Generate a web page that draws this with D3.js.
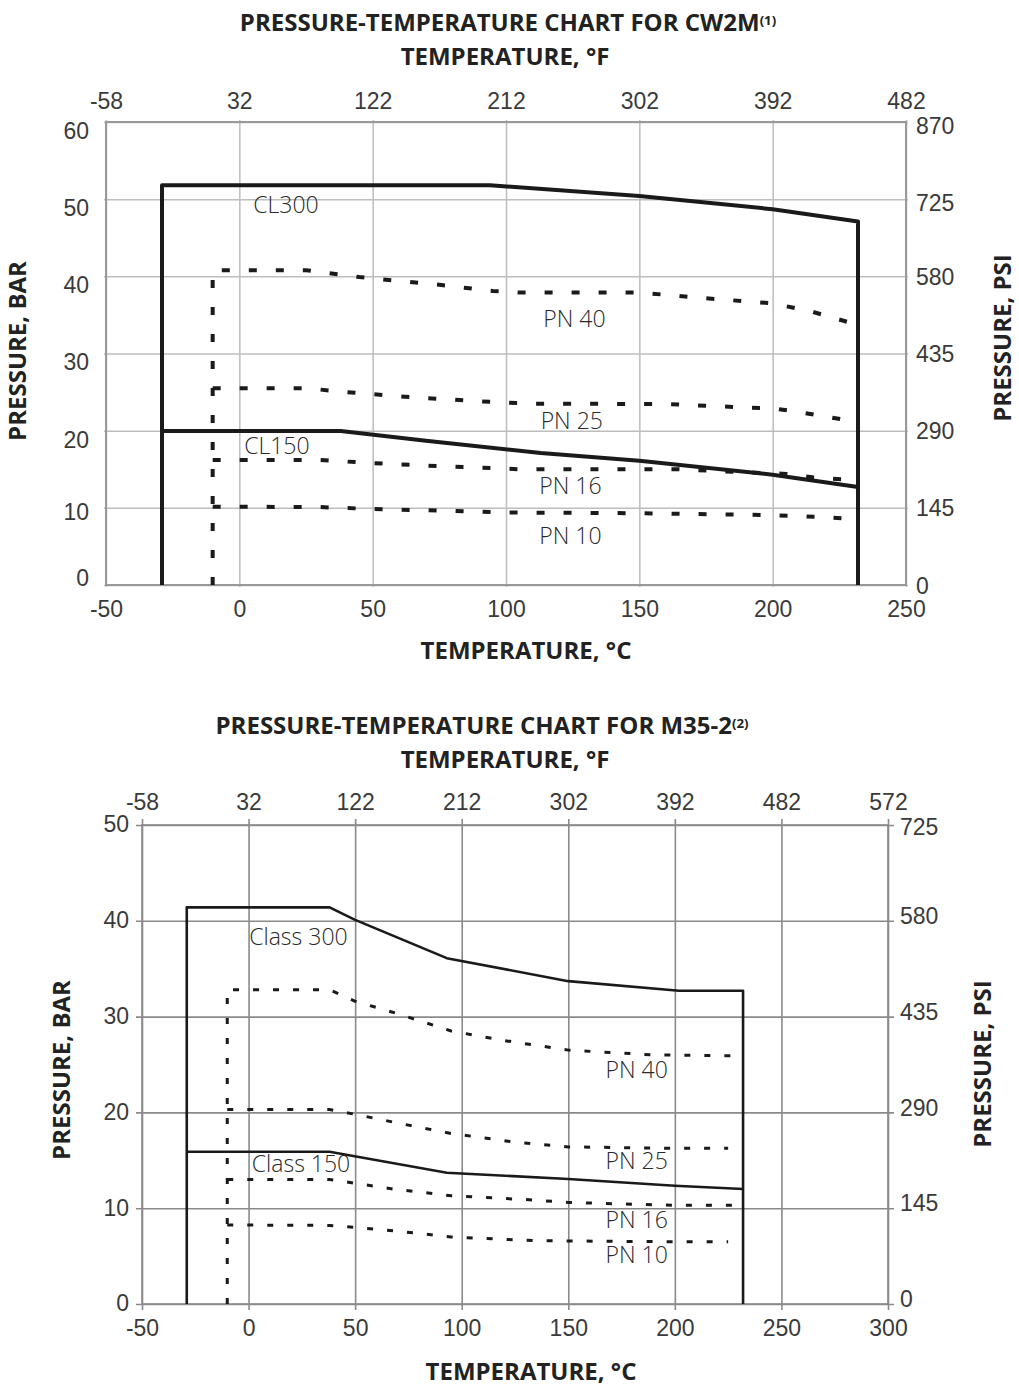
<!DOCTYPE html>
<html>
<head>
<meta charset="utf-8">
<script src="https://cdn.jsdelivr.net/npm/d3@7"></script>
<style>
  body { margin: 0; background: #fff; }
  svg { display: block; font-family: "Open Sans", sans-serif; }
  .tick text { fill: #3a3a3a; font-weight: 300; }
  .ttl { font-weight: 700; fill: #222; }
  .lbl { font-weight: 300; fill: #2a2a2a; }
</style>
</head>
<body>
<script>
// ---- CW2M chart (top) ----
const cTicks1 = [-50, 0, 50, 100, 150, 200, 250];
const fTicks1 = [-58, 32, 122, 212, 302, 392, 482];
const barTicks1 = [0, 10, 20, 30, 40, 50, 60];
const psiTicks1 = [0, 145, 290, 435, 580, 725, 870];

const cw2mCL300 = [[-29, 0], [-29, 51.8], [94, 51.8], [150, 50.4], [200, 48.7], [232, 47.1], [232, 0]];
const cw2mCL150 = [[-29, 19.95], [38, 19.95], [70, 18.7], [113, 17.1], [150, 16.1], [200, 14.3], [232, 12.7]];
const cw2mPN40 = [[-10, 0], [-10, 40.8], [25, 40.8], [45, 39.9], [75, 38.9], [95, 38.1], [105, 37.9], [150, 37.9], [175, 37.15], [200, 36.5], [215, 35.4], [228, 34.1]];
const cw2mPN25 = [[-10, 25.5], [25, 25.5], [40, 25.0], [60, 24.45], [90, 23.8], [110, 23.5], [160, 23.45], [190, 23.0], [200, 22.9], [210, 22.4], [229, 21.3]];
const cw2mPN16 = [[-10, 16.2], [30, 16.2], [50, 15.8], [75, 15.4], [95, 15.15], [105, 15.0], [165, 15.0], [190, 14.6], [205, 14.4], [215, 13.95], [226, 13.7]];
const cw2mPN10 = [[-10, 10.15], [30, 10.1], [50, 9.85], [80, 9.6], [100, 9.4], [150, 9.3], [180, 9.15], [200, 9.05], [220, 8.8], [231, 8.5]];

// ---- M35-2 chart (bottom) ----
const cTicks2 = [-50, 0, 50, 100, 150, 200, 250, 300];
const fTicks2 = [-58, 32, 122, 212, 302, 392, 482, 572];
const barTicks2 = [0, 10, 20, 30, 40, 50];
const psiTicks2 = [0, 145, 290, 435, 580, 725];

const m35Class300 = [[-29, 0], [-29, 41.4], [38, 41.4], [50, 40.1], [93, 36.1], [150, 33.7], [202, 32.7], [232, 32.7], [232, 0]];
const m35Class150 = [[-29, 15.9], [38, 15.9], [93, 13.7], [150, 13.05], [200, 12.35], [232, 12.0]];
const m35PN40 = [[-10, 0], [-10, 32.8], [38, 32.8], [50, 31.6], [70, 30.3], [95, 28.5], [120, 27.5], [150, 26.5], [190, 26.0], [232, 25.9]];
const m35PN25 = [[-10, 20.3], [38, 20.3], [50, 19.8], [72, 18.8], [95, 17.8], [125, 16.9], [150, 16.4], [200, 16.25], [225, 16.25]];
const m35PN16 = [[-10, 13.0], [38, 13.0], [50, 12.6], [68, 12.0], [95, 11.3], [130, 10.9], [150, 10.6], [200, 10.3], [232, 10.3]];
const m35PN10 = [[-10, 8.25], [38, 8.2], [50, 8.0], [70, 7.6], [95, 7.0], [135, 6.6], [150, 6.58], [200, 6.5], [225, 6.5]];

const svg = d3.select('body').append('svg').attr('width', 1019).attr('height', 1389);
const plain = d => String(d); // keep ascii hyphen like the print

function drawChart(o) {
  const x = d3.scaleLinear().domain(o.cDomain).range([o.left, o.right]);
  const xf = d3.scaleLinear().domain(o.fDomain).range([o.left, o.right]);
  const y = d3.scaleLinear().domain(o.barDomain).range([o.bottom, o.top]);
  const yp = d3.scaleLinear().domain(o.psiDomain).range([o.bottom, o.top]);
  const g = svg.append('g');

  // grid (sticks out a little past the frame on every side)
  g.append('g').attr('transform', `translate(0,${o.bottom + o.tick})`)
    .call(d3.axisBottom(x).tickValues(o.cTicks).tickSize(o.top - o.bottom - 2 * o.tick).tickFormat(''))
    .call(a => a.select('.domain').remove())
    .call(a => a.selectAll('line').attr('stroke', o.grid).attr('stroke-width', o.gridW));
  g.append('g').attr('transform', `translate(${o.left - o.tick},0)`)
    .call(d3.axisLeft(y).tickValues(o.barTicks).tickSize(o.left - o.right - 2 * o.tick).tickFormat(''))
    .call(a => a.select('.domain').remove())
    .call(a => a.selectAll('line').attr('stroke', o.grid).attr('stroke-width', o.gridW));
  g.append('rect').attr('x', o.left).attr('y', o.top).attr('width', o.right - o.left).attr('height', o.bottom - o.top)
    .attr('fill', 'none').attr('stroke', o.frame).attr('stroke-width', o.frameW);

  // tick labels
  const lab = (a) => {
    a.select('.domain').remove();
    a.selectAll('line').remove();
    a.selectAll('text').style('font-size', o.tickFs + 'px');
  };
  g.append('g').attr('transform', `translate(0,${o.bottom})`)
    .call(d3.axisBottom(x).tickValues(o.cTicks).tickSize(0).tickPadding(o.xPad).tickFormat(plain)).call(lab);
  g.append('g').attr('transform', `translate(0,${o.top})`)
    .call(d3.axisTop(xf).tickValues(o.fTicks).tickSize(0).tickPadding(o.fPad).tickFormat(plain)).call(lab);
  g.append('g').attr('transform', `translate(${o.left},0)`)
    .call(d3.axisLeft(y).tickValues(o.barTicks).tickSize(0).tickPadding(o.yPad).tickFormat(plain)).call(lab)
    .selectAll('text').attr('dy', d => o.leftDy(d));
  g.append('g').attr('transform', `translate(${o.right},0)`)
    .call(d3.axisRight(yp).tickValues(o.psiTicks).tickSize(0).tickPadding(o.pPad).tickFormat(plain)).call(lab)
    .selectAll('text').attr('dy', d => o.rightDy(d));

  // curves
  const line = d3.line().x(d => x(d[0])).y(d => y(d[1]));
  o.solid.forEach(s => g.append('path').attr('d', line(s)).attr('fill', 'none')
    .attr('stroke', '#1a1a1a').attr('stroke-width', o.solidW).attr('stroke-linejoin', 'round'));
  o.dashed.forEach(s => g.append('path').attr('d', line(s)).attr('fill', 'none')
    .attr('stroke', '#1a1a1a').attr('stroke-width', o.dashW).attr('stroke-dasharray', o.dash));

  o.labels.forEach(l => g.append('text').attr('class', 'lbl')
    .attr('x', x(l[1])).attr('y', y(l[2])).attr('dy', '0.35em')
    .style('font-size', o.lblFs + 'px').text(l[0]));

  // titles
  const title = g.append('text').attr('class', 'ttl').attr('text-anchor', 'middle')
    .attr('x', o.titleX).attr('y', o.titleY).style('font-size', o.ttlFs + 'px');
  title.append('tspan').text(o.title);
  title.append('tspan').attr('dy', '-0.45em').style('font-size', '0.55em').text(o.note);
  g.append('text').attr('class', 'ttl').attr('text-anchor', 'middle')
    .attr('x', o.fLabelX).attr('y', o.fLabelY).style('font-size', o.ttlFs + 'px').text('TEMPERATURE, °F');
  g.append('text').attr('class', 'ttl').attr('text-anchor', 'middle')
    .attr('x', o.cLabelX).attr('y', o.cLabelY).style('font-size', o.ttlFs + 'px').text('TEMPERATURE, °C');
  g.append('text').attr('class', 'ttl').attr('text-anchor', 'middle')
    .attr('transform', `translate(${o.barLabelX},${o.barLabelY}) rotate(-90)`)
    .style('font-size', o.ttlFs + 'px').text('PRESSURE, BAR');
  g.append('text').attr('class', 'ttl').attr('text-anchor', 'middle')
    .attr('transform', `translate(${o.psiLabelX},${o.psiLabelY}) rotate(-90)`)
    .style('font-size', o.ttlFs + 'px').text('PRESSURE, PSI');
}

drawChart({
  left: 106, right: 906, top: 122, bottom: 585,
  cDomain: [-50, 250], fDomain: [-58, 482], barDomain: [0, 60], psiDomain: [0, 870],
  cTicks: cTicks1, fTicks: fTicks1, barTicks: barTicks1, psiTicks: psiTicks1,
  grid: '#bdbdbd', gridW: 1.5, frame: '#999', frameW: 2, tick: 2,
  tickFs: 23, xPad: 16, fPad: 13, yPad: 17, pPad: 10,
  leftDy: d => d === 0 ? '0.02em' : d === 10 ? '0.5em' : '0.71em',
  rightDy: d => d === 0 ? '0.38em' : d >= 725 ? '0.48em' : '0.34em',
  solid: [cw2mCL300, cw2mCL150], solidW: 4,
  dashed: [cw2mPN40, cw2mPN25, cw2mPN16, cw2mPN10], dashW: 4, dash: '8,19',
  labels: [['CL300', 5.2, 49.3], ['CL150', 1.8, 18.0], ['PN 40', 114, 34.5], ['PN 25', 113, 21.3], ['PN 16', 112.5, 12.8], ['PN 10', 112.5, 6.4]],
  lblFs: 23,
  title: 'PRESSURE-TEMPERATURE CHART FOR CW2M', note: '(1)',
  ttlFs: 24, titleX: 508, titleY: 31, fLabelX: 505, fLabelY: 65,
  cLabelX: 526, cLabelY: 659, barLabelX: 26, barLabelY: 351, psiLabelX: 1011, psiLabelY: 338
});

drawChart({
  left: 142, right: 888, top: 825, bottom: 1304,
  cDomain: [-50, 300], fDomain: [-58, 572], barDomain: [0, 50], psiDomain: [0, 725],
  cTicks: cTicks2, fTicks: fTicks2, barTicks: barTicks2, psiTicks: psiTicks2,
  grid: '#8a8a8a', gridW: 1.6, frame: '#8a8a8a', frameW: 1.6, tick: 6,
  tickFs: 23, xPad: 16, fPad: 15, yPad: 13, pPad: 12,
  leftDy: d => '0.3em',
  rightDy: d => d === 725 ? '0.42em' : '0.12em',
  solid: [m35Class300, m35Class150], solidW: 2.6,
  dashed: [m35PN40, m35PN25, m35PN16, m35PN10], dashW: 3, dash: '6,14',
  labels: [['Class 300', 0.3, 38.3], ['Class 150', 1.5, 14.6], ['PN 40', 167.5, 24.4], ['PN 25', 167.5, 14.9], ['PN 16', 167.5, 8.8], ['PN 10', 167.5, 5.1]],
  lblFs: 23,
  title: 'PRESSURE-TEMPERATURE CHART FOR M35-2', note: '(2)',
  ttlFs: 24, titleX: 482, titleY: 734, fLabelX: 505, fLabelY: 768,
  cLabelX: 531, cLabelY: 1380, barLabelX: 70, barLabelY: 1070, psiLabelX: 991, psiLabelY: 1064
});
</script>
</body>
</html>
